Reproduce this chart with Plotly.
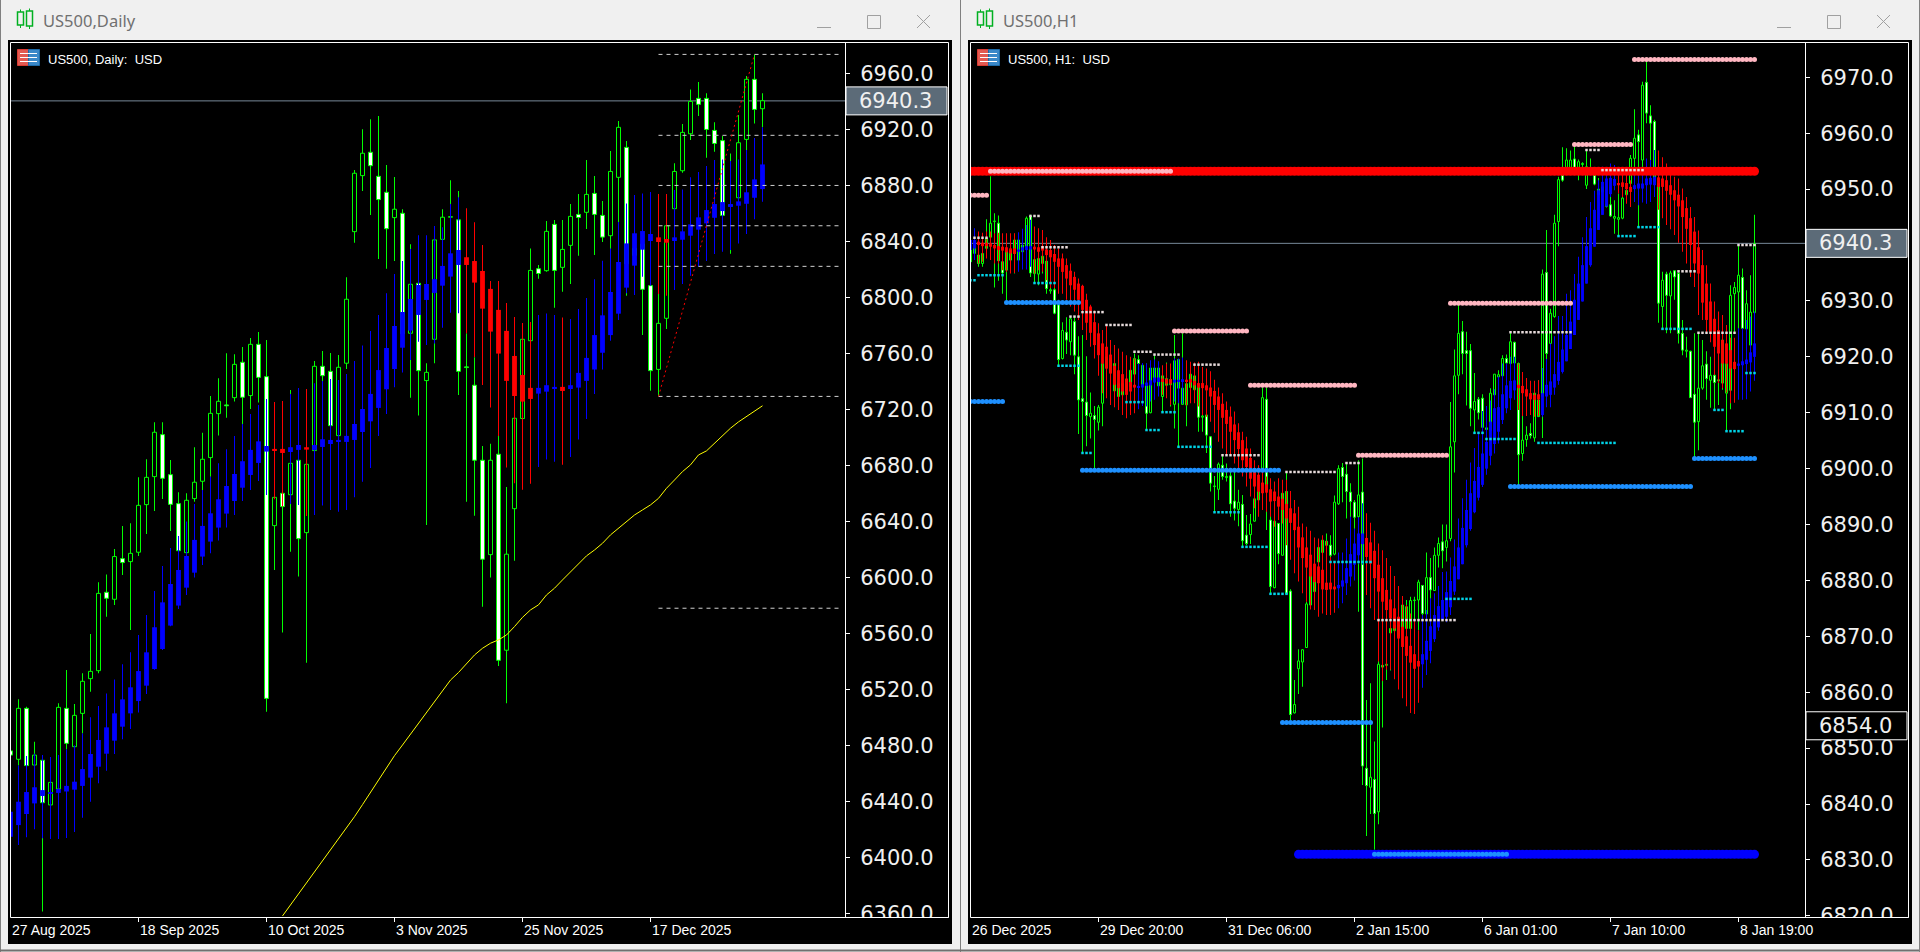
import numpy as np
import plotly.graph_objects as go

# ---- US500 Daily (left window) ----
d_ticks = ["27 Aug 2025", "18 Sep 2025", "10 Oct 2025", "3 Nov 2025", "25 Nov 2025", "17 Dec 2025"]
d_tick_bars = [0, 16, 32, 48, 64, 80]
d_top = [6476,6506.4,6506.4,6473,6469.3,6453.5,6507.1,6506.4,6501.4,6525.7,
         6532.8,6588.5,6589.3,6614.8,6613.3,6617.1,6651.4,6671.4,6703.6,6701.9,
         6673.3,6652.6,6655,6667.9,6684.3,6717.1,6725.7,6723.1,6752.1,6753.6,
         6766.4,6766.4,6743.3,6657.1,6660,6681.4,6683.6,6680.7,6750.7,6750.7,
         6747.1,6750,6798.6,6888.6,6902.9,6903.6,6886.4,6875,6862.9,6860,
         6809.3,6810,6746.4,6841,6857.2,6857.6,6855.3,6750.3,6737.2,6683.6,
         6683.6,6687.9,6616.5,6713.6,6770,6819.2,6820.4,6847.1,6852.1,6834.2,
         6857.8,6859.2,6873.5,6874.2,6858.5,6889.9,6921.4,6907.1,6835,6838,
         6808.3,6781.4,6851.1,6889.9,6917.8,6939.9,6942.1,6942.1,6919.2,6911.9,
         6866,6910.4,6955.7,6955.7,6940.4]
d_bot = [6473,6470,6465.5,6465.9,6439,6437.4,6448.8,6481.4,6479,6502.8,
         6527.6,6533.3,6585,6584.3,6610.5,6611.2,6617.9,6651.9,6671.9,6670.7,
         6652.1,6619,6617.6,6656.2,6668.6,6685.5,6716.9,6722.5,6728.3,6728.6,
         6729.8,6742.8,6513.5,6636.9,6650.5,6659,6627.6,6631.9,6690.5,6744,
         6708.3,6701.2,6752.9,6846.9,6886.9,6894,6869.8,6849,6856.9,6774,
         6774.3,6747.6,6740.5,6770,6841.4,6857.2,6747.1,6749.8,6683.6,6612.9,
         6616.2,6540.7,6547.9,6649,6713.4,6769,6817,6819,6819.2,6821.4,
         6837.1,6857,6860.7,6859.2,6843,6844,6885.7,6824,6830,6805.7,
         6747.6,6748.5,6785,6863.3,6890.4,6916.8,6937.8,6919.9,6909.9,6858.5,
         6865,6871.1,6912.8,6934.2,6934.7]
d_high = [6477,6512.8,6507.6,6482.6,6470,6455,6510,6533.8,6509.5,6531.4,
          6559.5,6596.4,6602,6620.2,6636.7,6638.6,6671.4,6684.3,6710.7,6710.7,
          6683.8,6660.7,6660,6692.9,6703.3,6729.5,6742.1,6760,6759.3,6764.5,
          6771,6775.2,6769.5,6660,6660.5,6733.8,6684,6681,6754.5,6761.7,
          6760.2,6758.8,6814.3,6891,6920,6927.2,6929.5,6894.5,6886,6862.9,
          6837.9,6810.5,6752.9,6841.5,6862.9,6883.6,6876,6774.3,6757.2,6693.8,
          6695.3,6701,6664.5,6714,6770.3,6834.9,6823,6854.5,6855.2,6855.2,
          6866.6,6873.8,6898,6886.6,6868.8,6904.5,6925.9,6911.6,6836,6840,
          6808.8,6802.3,6851.3,6895.7,6923.8,6948.5,6953.8,6945.7,6925,6915.2,
          6902.8,6930.2,6958,6973.5,6945.7]
d_low = [6472,6465.5,6465,6465,6361.2,6436,6447,6477,6478,6488.5,
         6518.3,6531.4,6571.9,6580.2,6601.7,6562.4,6615.2,6631,6647.4,6656,
         6633.1,6619,6617,6654,6662.4,6671.9,6701.2,6714,6725.5,6709.5,
         6720.2,6724.8,6504,6605.2,6560.5,6618.3,6600.5,6539,6690,6740.2,
         6708,6700,6748.8,6839,6876,6858.8,6827.4,6820.3,6826,6764,
         6728.3,6715.5,6637.4,6752.9,6840,6855,6730.2,6654,6644,6579,
         6599.8,6536.7,6510,6611.9,6713,6768.5,6813.3,6818.3,6792.6,6804,
         6809.5,6829.7,6848.8,6830.2,6839.5,6834.2,6853.8,6801.1,6829,6773,
         6733.3,6729.7,6777.3,6862,6889,6912.3,6929.5,6899.7,6904,6858,
         6831.1,6870,6905.2,6924.2,6921.4]
d_white = [1,0,1,0,1,0,0,1,0,0, 0,0,1,0,1,0,0,0,0,1, 1,1,0,0,0,0,0,1,0,1,
           0,1,1,0,1,0,1,0,0,1, 1,0,0,0,0,1,1,1,0,1, 0,1,0,0,0,0,1,1,1,1,
           0,1,0,0,0,0,1,0,1,0, 0,1,0,1,1,0,0,1,0,1, 1,0,0,0,0,0,1,1,1,1,
           0,0,0,1,0]
d_ha_top = [6432.6,6439.7,6446.6,6450,6448,6446.5,6448.8,6451,6454,6463,
            6473.8,6483.8,6492.8,6502.8,6512.8,6521.4,6533,6546.4,6564.3,6582.1,
            6595.2,6605.2,6615.2,6626.7,6636.7,6645.7,6655.7,6665.2,6673.8,6682.9,
            6691,6697.1,6693.8,6691.7,6691.7,6692.9,6694.5,6692.9,6694.5,6698.6,
            6698.1,6698.1,6701,6709.5,6720.2,6731,6748,6763.8,6779.5,6789.5,
            6798.8,6808.8,6809.5,6812.9,6822.4,6831.4,6833.8,6828.6,6825.9,6818.8,
            6806,6791,6776,6758.1,6744.5,6735.3,6735.3,6737.2,6736,6736,
            6737.2,6746,6756.7,6773,6787.1,6803.8,6825.2,6838.5,6845.7,6847.3,
            6845.2,6842.8,6841.6,6842.8,6847.1,6852.1,6857.1,6862.3,6866.6,6868,
            6866.6,6868.5,6875,6884.2,6894.9]
d_ha_bot = [6414.7,6423,6430.9,6438.5,6443.8,6445.8,6446,6447,6448.3,6451,
            6456.9,6464.7,6474,6483.3,6493.3,6502.8,6511.6,6522.6,6534.5,6548.8,
            6565.5,6579.8,6592.6,6603.3,6614.8,6625.5,6635.5,6645.5,6654.5,6664,
            6673.1,6681.7,6689.8,6690.2,6688.8,6689.5,6691,6691.2,6691,6693.1,
            6695.2,6696.7,6696.7,6698.1,6703.8,6711.4,6721,6734.3,6748.8,6764,
            6776.2,6787.4,6798.1,6803.1,6808.3,6814.8,6823.1,6823.1,6810.5,6791.9,
            6775.5,6759.8,6740.3,6729.5,6725.5,6727.4,6731.2,6732.6,6734.5,6733.1,
            6734.5,6735.5,6740.3,6748.4,6760.4,6773,6788.3,6806.9,6822.6,6834,
            6840.2,6839.5,6839,6840.2,6841.1,6844,6848.3,6852.8,6856.8,6861.6,
            6864.5,6865.4,6866.8,6871.1,6877.3]
d_ha_high = [6436,6465.5,6472.4,6474,6473,6471.6,6473,6477,6480,6488.5,
             6500,6508,6517,6527,6537.8,6546.4,6558.8,6573,6590.2,6608.1,
             6621,6629.5,6639.8,6652.4,6662.4,6671.9,6681.4,6691.4,6701,6709.5,
             6716.7,6723.1,6727.4,6725.2,6726,6731,6735.2,6734.5,6738.6,6740.2,
             6741.7,6741,6745.2,6754.5,6765.5,6776,6787.4,6802.9,6816.7,6826,
             6834.5,6844.3,6844.3,6851,6850,6866.7,6871.4,6863.6,6853.6,6837.3,
             6811.6,6811.7,6796,6786,6781.7,6782.4,6787.4,6788.4,6787.4,6785.5,
             6784.5,6791.7,6799.5,6812.8,6826.1,6834.9,6853.8,6867,6873,6874.2,
             6875.2,6873.8,6873.8,6876.6,6877,6885.7,6889.5,6893.8,6898,6898.5,
             6897.3,6898.5,6905.2,6913.8,6921.4]
d_ha_low = [6410,6408.8,6414.3,6420,6413.6,6413,6413,6413.8,6418,6428.3,
            6439.7,6452.8,6461.9,6473.8,6484.3,6491.6,6503.5,6516.6,6534,6548,
            6565,6577.4,6587.4,6599.8,6608.8,6617.1,6626.2,6635.5,6644.5,6654.5,
            6662.4,6668.8,6658.8,6655.7,6650.5,6652.4,6651.7,6643.8,6644.5,6651.2,
            6648.1,6646.9,6648.1,6657.1,6668.3,6678.1,6701,6716.7,6735.7,6746.2,
            6755.2,6768.3,6766,6767,6778.3,6789,6788.6,6774.3,6757.4,6737.4,
            6721.2,6701,6678.4,6667.2,6662.6,6666.9,6678.8,6684.1,6682.6,6680.3,
            6686,6698.4,6713.1,6731,6748.5,6769,6783.8,6802.8,6801.6,6814.7,
            6808.3,6802.3,6801.1,6805.2,6809.5,6815.4,6821.9,6825.9,6830.9,6832.6,
            6833.8,6838.5,6845.2,6855.7,6868.3]
d_ha_red = [33,34,37,57,58,59,60,61,62,63,64,65,69,81,82]
# yellow moving average, bars 34..94
d_ma = [6358.1,6366,6373.8,6381.4,6389.3,6396.9,6405,6412.8,6420.7,6429,6437.6,6446.4,6455.2,6464,6472.6,
        6480.2,6487.8,6495.7,6503.3,6511.2,6519,6526.6,6532,6538.6,6544.5,6549.3,6552.9,6555.3,6558.8,6564.8,
        6571.4,6576.7,6580.3,6587.4,6592.2,6598.1,6604,6610,6615.3,6619.5,6624.3,6630.3,6635,6639.8,6644.5,
        6648.1,6651.7,6656.4,6663.6,6669.5,6675.5,6680.3,6687.4,6690.3,6695.6,6701,6706.5,6711,6715,6719,6722.5]
# fibo levels, dashed, bars 81..104
d_fibo = [6973.5,6915.7,6879.9,6851.1,6822.1,6729.2,6577.9]
d_trend_bars = [81, 93]
d_trend = [6729.2, 6973.5]

# ---- US500 H1 (right window) ----
h_ticks = ["26 Dec 2025", "29 Dec 20:00", "31 Dec 06:00", "2 Jan 15:00", "6 Jan 01:00", "7 Jan 10:00", "8 Jan 19:00"]
h_tick_bars = [0, 32, 64, 96, 128, 160, 192]
h_top = [6940,6939.4,6938.2,6938.5,6941.2,6943.9,6944.3,6943.9,6937,6938.8,
         6939,6940.9,6940.9,6940,6944.8,6945.1,6937.4,6937.6,6938,6937.1,
         6932,6932,6929.3,6924.7,6924.4,6926.8,6926.3,6920,6912.5,6911.9,
         6909.9,6909.5,6911,6918.8,6920,6919.7,6918.8,6915.2,6915.2,6916,
         6917.6,6919.7,6919.5,6918.5,6914.8,6918,6918,6918,6916.6,6916.1,
         6915.9,6919.3,6919.5,6914.4,6915.2,6916.9,6916.6,6914.5,6909.4,6909.6,
         6905.7,6896.9,6900.8,6900.6,6898.6,6898.7,6894.2,6894,6893.6,6888.1,
         6890.1,6894.6,6895.9,6912.7,6912.4,6890.8,6890.6,6890.2,6895.6,6895.9,
         6878.1,6857.8,6865.6,6867.6,6875.8,6882.2,6880,6885.9,6887.2,6887,
         6886.3,6894,6900,6900.2,6899,6895.8,6894,6895.3,6895.8,6846.4,
         6844.8,6844.4,6865,6864.8,6865,6871.4,6872,6872,6875.6,6875.3,
         6876.4,6876.5,6879.7,6879.1,6880.5,6880.5,6884.5,6886.6,6886.9,6887.1,
         6903.9,6916.6,6924.2,6924.5,6921.1,6921.1,6912,6912.4,6912.6,6907.3,
         6913.5,6916.9,6916.8,6919.7,6919.7,6922.7,6922.6,6918.8,6905.1,6906,
         6906.3,6913.5,6912.3,6934.8,6935.1,6927.8,6943.9,6951.7,6952.5,6955.2,
         6955.2,6955.4,6954.9,6954.6,6954,6953.7,6952.5,6950,6950.4,6947.3,
         6947.2,6945.1,6944.9,6948.4,6949.8,6955.5,6959.1,6959.7,6968.6,6969.1,
         6963.1,6962.1,6951,6933.7,6934.8,6935,6935.4,6934.9,6924.2,6921.2,
         6921,6913.3,6914.4,6918.4,6918.7,6916.7,6916.7,6915.9,6923,6918.8,
         6931,6932.4,6934.6,6934.2,6929.5,6928,6940.3]
h_bot = [6937,6938.5,6936.7,6936.7,6939.4,6941.4,6944.2,6937.2,6935,6935.5,
         6937.3,6938.5,6937.3,6938.8,6939.7,6935,6934.9,6934.8,6936.7,6932.2,
         6931.8,6927.8,6919.5,6919.7,6923,6922.7,6920.3,6912.3,6912,6909.5,
         6909.3,6908.8,6908.3,6911.7,6918,6917.2,6913.9,6912.9,6913.2,6914,
         6914.7,6916.9,6918.8,6914.7,6909.9,6910,6916,6914.8,6912.9,6914.9,
         6915,6911.5,6914.4,6911.5,6911.4,6914.5,6914.1,6909.2,6909.2,6906,
         6897.4,6896.8,6896.3,6898.6,6898.4,6893.7,6892.9,6892.7,6887.1,6886.6,
         6888.2,6890.6,6894.4,6900,6896.2,6878.9,6878.7,6884.8,6884.5,6877.7,
         6856,6856.3,6864.2,6865.4,6868,6875.6,6878,6883.3,6885,6886.3,
         6884.5,6884.7,6893.7,6898.6,6895.9,6894.1,6891.3,6891.4,6846.8,6843.3,
         6843,6838.3,6838.6,6864.5,6864.8,6870.6,6871,6870,6871.6,6871.4,
         6871.4,6876.4,6876.5,6874.1,6874,6878.3,6878.2,6884.5,6885.3,6885.9,
         6887.5,6904.8,6916.7,6920.6,6920.6,6910.8,6910.5,6910,6907.4,6907,
         6906.8,6913.2,6916.4,6916.6,6918.9,6918.8,6918.9,6902.5,6902.7,6905.2,
         6905.9,6905.5,6909.3,6912.9,6920.6,6922.4,6927.2,6944.2,6951.6,6953.4,
         6953.1,6953.7,6953.1,6954.4,6950.7,6953.1,6950.9,6949,6949.5,6946.9,
         6945.2,6944.8,6944.6,6944.8,6949,6951,6955.5,6958.5,6955.2,6963.6,
         6961.8,6951.3,6929.6,6929,6931,6930.9,6934.3,6924.2,6921.2,6921,
         6912.7,6908.3,6908.4,6914.4,6916.1,6915.8,6915.4,6915.7,6915.3,6913.5,
         6914,6931.3,6931.6,6925.1,6925,6922.1,6927.9]
h_high = [6940.5,6940,6939.4,6939.4,6944.6,6952.3,6945.7,6945.3,6938,6939.7,
          6939.5,6942,6942,6941.5,6945.1,6945.4,6938,6937.9,6938.5,6937.9,
          6933.6,6933.7,6930.2,6926.2,6927.1,6927.2,6927.2,6923.7,6923.9,6920.1,
          6913.6,6911.2,6911.4,6919.7,6925.7,6921,6919.7,6917,6917,6917,
          6919.7,6920.6,6920.3,6918.8,6918.8,6918,6920.3,6918.2,6917,6919,
          6916,6923.9,6919.6,6924.2,6915.5,6917,6916.7,6914.7,6914.5,6911.6,
          6905.8,6898.7,6901.1,6902.4,6900.9,6899.5,6899.8,6896.2,6895.3,6891.7,
          6891.9,6898.3,6896,6914.5,6914.5,6896.2,6892,6890.2,6895.9,6899.4,
          6878.4,6862.2,6867.7,6867.7,6876.2,6882.3,6881,6886.3,6887.5,6888.4,
          6888.1,6895.2,6900.6,6901,6901,6897.4,6894.4,6901.5,6901.8,6858.6,
          6861.6,6851.2,6869.5,6867.3,6867,6871.6,6872.5,6872.5,6877,6876.5,
          6877.1,6877.1,6880.1,6879.2,6885,6884,6885.9,6887.7,6890,6890,
          6911.9,6921.3,6929.3,6926.4,6924.5,6922.3,6917.1,6912.8,6913.3,6909.9,
          6914.4,6916.9,6917.6,6920.3,6920.4,6924.3,6922.7,6919,6909.7,6907.6,
          6908.1,6913.5,6915.8,6935.6,6942.7,6928.6,6945.4,6952.2,6957.5,6957.3,
          6956.9,6957.6,6955.3,6954.8,6956.9,6955.5,6953.1,6952,6951,6948,
          6949.2,6948,6949.2,6950.4,6951.6,6956.1,6964.3,6960.6,6969.2,6972.9,
          6965,6962.4,6952,6935.2,6935.2,6935.4,6935.4,6935.2,6926.6,6923.6,
          6921.1,6924.2,6924.2,6923,6921,6920,6926.2,6918.8,6926.2,6924.5,
          6932.8,6933.4,6940,6935.8,6931.9,6934.6,6945.4]
h_low = [6936.1,6938,6936.1,6936.1,6937.9,6937.4,6932.4,6933.6,6931.3,6929.9,
         6935,6934.9,6935.6,6937,6939.4,6934.3,6933.1,6932.8,6934.9,6931.3,
         6931.3,6927.6,6918.3,6919.5,6920.5,6920.3,6916.9,6906.2,6902.8,6904,
         6905.4,6900,6906.8,6907.6,6914,6917,6913.7,6912,6912.5,6912,
         6912.3,6916.9,6918.7,6914.7,6906.9,6909.9,6915,6914.8,6910.2,6914,
         6911.1,6907.2,6903.9,6911.5,6907.6,6914.4,6913.8,6906.6,6906.6,6902.8,
         6895.9,6892.3,6894.4,6898,6897.7,6891.4,6890.7,6889.7,6886,6886.3,
         6886.5,6890.5,6894,6899.8,6889,6877.4,6878.6,6882.9,6884.5,6877.7,
         6855,6856.2,6859.7,6861,6868,6875,6877,6883,6884.5,6885.7,
         6883.3,6884.5,6893.5,6894,6891.1,6890.8,6888.4,6874.4,6843.4,6834.3,
         6838.2,6831.8,6836.4,6853.7,6862.2,6863.9,6870.5,6869.8,6871.5,6871.4,
         6871.1,6871.4,6871.1,6873.7,6873.8,6874.1,6878.2,6882.3,6882.2,6883.4,
         6887,6899.3,6913.3,6916.9,6911.3,6907.6,6906.4,6908.8,6907.2,6907,
         6906.8,6905.4,6911.4,6916.4,6918.8,6918.5,6918.8,6897.1,6901.4,6903.9,
         6905.4,6904.8,6909.3,6905.5,6917,6916.7,6927,6939.8,6951.3,6953.1,
         6952.9,6953.1,6951.6,6953.4,6950,6952.8,6950.7,6948,6949.2,6946.7,
         6945,6942,6941.6,6944.6,6948,6946.8,6951.2,6943.3,6950,6961.8,
         6953.4,6951.3,6926.1,6925.1,6924.2,6924.2,6930.2,6922.4,6920.3,6919.9,
         6912.7,6902.1,6903.3,6914.1,6912.3,6910.9,6910.5,6911.4,6914.1,6906.7,
         6910.6,6924.2,6924,6923,6922.4,6919.7,6927.8]
h_white_bars = [0,2,7,8,15,19,21,22,24,26,27,28,29,31,42,44,52,57,59,60,63,65,66,68,69,74,75,77,79,80,
                89,90,93,94,95,96,98,99,101,103,113,115,118,123,124,125,127,128,134,136,137,140,144,148,
                151,156,160,167,169,170,171,172,174,176,177,178,180,181,184,186,193]
h_ha_top = [6940.9,6940.9,6940.6,6940.4,6940.4,6940.3,6940,6939.8,6939.7,6939.6,
            6939.4,6939.4,6939.2,6939.6,6939.8,6939.8,6939.7,6939.6,6939.8,6939.2,
            6939.1,6938.4,6937.6,6937.6,6936.4,6935.4,6934.3,6933.1,6932.7,6930.2,
            6929,6926.2,6924.2,6922.4,6921.8,6920.4,6918.4,6917.6,6916.9,6916.1,
            6915.5,6915,6914.8,6915.1,6915.4,6915.8,6916.3,6916.3,6916.1,6916,
            6916,6915.9,6915.9,6916,6915.9,6916,6915.7,6915.3,6915.3,6914.9,
            6914.5,6913.9,6912.9,6911.6,6910.5,6909.3,6907.9,6906.5,6905.1,6903.6,
            6901.9,6899.8,6898.9,6897.5,6897.2,6896.3,6895.9,6895,6894.6,6893.7,
            6892.9,6892,6889.6,6887.7,6885.9,6884.6,6883,6882.5,6881.9,6879.6,
            6879.6,6878.9,6879.2,6880,6882.2,6884.7,6886.6,6888.4,6888.4,6887.6,
            6886.8,6885.3,6882.8,6880.4,6878.3,6876.6,6875,6873.5,6871.7,6870,
            6868.3,6866.8,6865.6,6866.8,6869.2,6871.8,6873.8,6875.4,6876.5,6877.9,
            6879.9,6882.5,6885.9,6889.4,6892.6,6895.6,6897.8,6900.3,6902.7,6904.8,
            6908.4,6910.8,6911,6913.3,6914.9,6915.7,6915.8,6915,6914.8,6914.2,
            6913.5,6913.2,6913.3,6913.5,6915,6915.6,6916.9,6919.1,6921.3,6923.9,
            6926.3,6930.2,6933.1,6936.4,6939.8,6943,6946.3,6949.8,6951.3,6951.9,
            6952,6951.8,6951.1,6951.2,6951.1,6950.4,6950.7,6951,6951,6951.9,
            6952,6952.2,6952.1,6951.9,6951.6,6950.7,6949.8,6949,6948,6946.6,
            6944.8,6942.4,6939.6,6936.4,6933.1,6929.9,6926.8,6924.8,6923,6922.4,
            6921.2,6919.1,6918.8,6919.2,6919.5,6920.8,6922.4]
h_ha_bot = [6939.1,6939.4,6940,6939.8,6939.8,6939.7,6939.4,6939.1,6939,6938.7,
            6938.5,6938.4,6938.8,6939,6939.1,6939.2,6939.2,6938.8,6939,6938.2,
            6937.8,6937,6936.1,6935.2,6934,6932.8,6932,6930.2,6928.4,6926.1,
            6924.3,6922.1,6920.3,6918.8,6917.9,6917,6915,6914.4,6913.8,6913.2,
            6913.8,6914.5,6914.5,6914.5,6914.8,6914.9,6915.4,6915.5,6915.5,6915.2,
            6915.2,6915.4,6915.5,6915.5,6915.5,6915.4,6914.9,6914.5,6914.4,6914,
            6912.9,6911.4,6910.5,6909.1,6908,6906.6,6905.1,6903.5,6901.5,6900.3,
            6898.2,6896.8,6895.9,6895.6,6895.7,6894.1,6894.2,6893.2,6892.6,6891.1,
            6890.3,6889,6885.9,6884,6882.3,6880.7,6879.7,6879.5,6878.4,6878.3,
            6878.4,6878.4,6878.6,6878.9,6879.5,6880.7,6882.8,6884.5,6886.5,6884.2,
            6883,6880.4,6878,6876.2,6874.7,6873.2,6871.4,6869.6,6868.1,6866.5,
            6865.3,6864.2,6864.6,6865,6865.8,6867.4,6869.5,6871.6,6873,6873.5,
            6875.2,6878,6880.2,6882.9,6886.3,6889.2,6892.2,6894.8,6897.1,6900,
            6902.3,6904.4,6906.6,6908.7,6910.8,6912.6,6914,6914.4,6913.5,6912.9,
            6912.4,6912.3,6912.4,6909.6,6912.9,6913.2,6914.5,6915.7,6917.3,6919.2,
            6921.4,6923.9,6926.6,6929.9,6933.1,6936.4,6939.7,6942.7,6945.4,6946.9,
            6949.1,6950.6,6950.7,6950.4,6950,6949.5,6950,6950.1,6950.1,6950.7,
            6950.8,6950.7,6950.4,6950.4,6949.7,6949,6948,6946.9,6945,6942.9,
            6940,6936.7,6934.9,6929.7,6926.6,6924.5,6921.8,6920.6,6918.8,6918.8,
            6917.9,6917.8,6918.4,6918.5,6918.7,6919,6920]
h_ha_high = [6942,6943,6942.4,6942.2,6942.4,6942.4,6942.1,6942.2,6942.1,6942.1,
             6942.1,6942.1,6942.3,6942.9,6943.6,6944.5,6943.3,6943,6942.7,6941.4,
             6940.9,6940,6939.4,6938.5,6937.6,6936.7,6935.2,6934,6932.9,6931.3,
             6929.3,6928.3,6926,6924.8,6925.5,6923,6922.1,6921.5,6920.9,6920.3,
             6920,6919.7,6918.8,6918.9,6918.8,6919.4,6919.5,6919.2,6918.5,6918.8,
             6918.8,6919.7,6919.7,6919.9,6919.4,6919.1,6919,6919.1,6918.2,6917.9,
             6917.4,6915.9,6914.5,6913.5,6912,6911.1,6910.2,6908.1,6906.6,6905.7,
             6903.6,6901.5,6900.6,6899.5,6898.6,6898.3,6897.7,6898.3,6898,6898,
             6896,6894.4,6893.2,6890.2,6889.6,6888.9,6887.7,6887.5,6888.1,6887.1,
             6884.2,6883.3,6885,6885,6887.5,6891.4,6889.3,6891.3,6893.8,6892,
             6890.3,6888.9,6886.6,6885.4,6884,6882.6,6880.8,6879,6877.2,6875.6,
             6874.1,6872.9,6871.1,6873.8,6874.7,6876.8,6877.7,6879,6881.5,6881.6,
             6884.1,6887.3,6891.1,6894.7,6898,6901.1,6903.7,6906.4,6910.3,6911.2,
             6912.2,6914.2,6916.5,6918.8,6918.8,6920,6920,6918.8,6917.3,6916.2,
             6915.7,6915.7,6915.8,6918,6919.6,6922.4,6923.7,6927.3,6927.3,6931.3,
             6931.9,6934.8,6937.9,6941.4,6945,6947.7,6949.7,6951.6,6954,6953.7,
             6954.6,6954.3,6953.4,6953.4,6953.4,6951.6,6953.4,6953.1,6953.4,6955.5,
             6955.2,6957,6956.9,6955.7,6954.6,6953.7,6952.2,6951.9,6950.1,6948.6,
             6946.8,6945,6942.6,6939.1,6936.4,6933.1,6929.9,6928.1,6927.5,6925.7,
             6923.4,6923.4,6925.1,6925.1,6926.6,6927.2,6928.1]
h_ha_low = [6936.1,6937.3,6936.7,6937,6937.6,6937.3,6936.7,6936.7,6935.5,6935.2,
            6934.9,6935,6935.2,6935.6,6935.6,6936.1,6934.9,6935.5,6935.2,6933.7,
            6932.3,6932.3,6931.3,6931.3,6930.2,6929,6928.1,6926.6,6924.8,6923,
            6921.8,6919.7,6916.6,6913.5,6912.6,6911.4,6911,6910.5,6909.6,6909,
            6909.6,6909.9,6910.6,6911.2,6911.1,6912,6912.3,6912.9,6913.2,6912.6,
            6911.4,6912,6911.7,6911.6,6911.3,6911.7,6911.7,6911.1,6909.6,6909.3,
            6908.4,6906.4,6904.8,6903.6,6902.4,6902.4,6900.9,6899.8,6898.6,6896.8,
            6895,6892.9,6891.4,6892.6,6892.3,6891.4,6889.6,6890.8,6890.2,6886.3,
            6883.7,6881.3,6879.8,6877.7,6876.2,6874.8,6874.7,6873.5,6874.1,6873.8,
            6873.8,6874.2,6875,6875.9,6877.4,6878.9,6880,6883,6882.8,6877.4,
            6875,6872.9,6865.5,6862,6864,6864,6862.3,6860.5,6858.9,6857.5,
            6856.3,6856.1,6858.1,6860.8,6863.1,6865.2,6869,6871,6873,6872.5,
            6873.8,6877.4,6880.2,6882.9,6885.9,6888.9,6892,6894.3,6896.7,6898.9,
            6900.6,6902.7,6904.5,6908,6909.9,6910.5,6912.3,6910.5,6909.4,6909.4,
            6909.6,6909.3,6909.4,6909.3,6911,6911,6913.2,6915,6917,6919.2,
            6921.4,6923.9,6926.6,6929.9,6933.1,6936.1,6939.7,6942.7,6945.4,6946.9,
            6948.6,6949.8,6949.2,6948.6,6947.4,6946.8,6947.7,6947.1,6947.6,6947.4,
            6947.7,6948.6,6946.3,6944.8,6943.6,6942.8,6941.8,6940.4,6938.8,6936.7,
            6934.3,6932.5,6927.5,6926.6,6924.2,6922.6,6916.8,6915.3,6914.4,6913.6,
            6911.7,6911.8,6912.3,6912.3,6912.4,6913.8,6915.7]
h_ha_red_bars = list(range(2, 12)) + list(range(16, 42)) + [48, 49, 50] + list(range(54, 92)) + \
    list(range(99, 113)) + list(range(137, 143)) + [162, 163, 164, 165] + list(range(172, 192))

# support / resistance levels: first bar, last bar, price
thick_red = [(0, 196, 6953.2)]
thick_blue = [(82, 196, 6831.0)]
pink_first = [0, 5, 51, 70, 97, 120, 151, 166]
pink_last = [4, 50, 69, 96, 119, 150, 165, 196]
pink_price = [6948.9, 6953.2, 6924.6, 6914.9, 6902.4, 6929.6, 6958.0, 6973.2]
blue_first = [0, 9, 28, 78, 101, 135, 181]
blue_last = [8, 27, 77, 100, 134, 180, 196]
blue_price = [6912.0, 6929.7, 6899.7, 6854.6, 6831.0, 6896.8, 6901.8]
white_first = [1, 15, 18, 25, 28, 34, 41, 46, 56, 63, 79, 94, 102, 135, 154, 158, 177, 182, 192]
white_last = [4, 17, 24, 27, 33, 40, 45, 52, 62, 72, 91, 97, 121, 150, 157, 168, 181, 191, 196]
white_price = [6941.3, 6945.2, 6939.6, 6927.2, 6928.0, 6925.7, 6920.9, 6920.4, 6918.6, 6902.4, 6899.4, 6901.0,
               6872.9, 6924.4, 6957.0, 6953.4, 6935.3, 6924.3, 6940.0]
cyan_first = [0, 2, 16, 22, 28, 39, 44, 48, 52, 61, 68, 75, 90, 119, 126, 129, 142, 162, 167, 173, 186, 189, 194]
cyan_last = [1, 8, 21, 27, 30, 43, 47, 51, 60, 67, 74, 79, 100, 125, 128, 136, 161, 166, 172, 180, 188, 193, 196]
cyan_price = [6933.7, 6934.6, 6933.2, 6918.4, 6902.8, 6911.9, 6906.9, 6910.1, 6903.9, 6892.2, 6886.0, 6877.6,
              6883.3, 6876.7, 6906.4, 6905.3, 6904.6, 6941.6, 6943.2, 6925.0, 6910.5, 6906.7, 6917.1]

last_price = 6940.3
crosshair_price = 6854.0

GREEN = "#00ff00"
BLUE = "#0000ff"
RED = "#ff0000"
W, H = 1920, 952
D_RANGE = [0.0625, 104.3125]
H_RANGE = [0.125, 208.625]

fig = go.Figure()


def add_bars(x, top, bot, width, color, line, xa, ya):
    top, bot = np.array(top, float), np.array(bot, float)
    fig.add_trace(go.Bar(x=x, y=top - bot, base=bot, width=width, xaxis=xa, yaxis=ya,
                         marker=dict(color=color, line=dict(color=line or color, width=1 if line else 0)),
                         hoverinfo="skip", showlegend=False))


def add_chart(top, bot, high, low, white, ha_top, ha_bot, ha_high, ha_low, ha_red, xa, ya, wick, body, ha_body):
    top, bot, high, low = [np.array(v, float) for v in (top, bot, high, low)]
    ha_top, ha_bot, ha_high, ha_low = [np.array(v, float) for v in (ha_top, ha_bot, ha_high, ha_low)]
    x = np.arange(len(top))
    add_bars(x, high, low, wick, GREEN, None, xa, ya)
    add_bars(x[~white], top[~white], bot[~white], body, "#000000", GREEN, xa, ya)
    add_bars(x[white], top[white], bot[white], body, "#ffffff", GREEN, xa, ya)
    # heiken ashi on top of the candles
    add_bars(x[~ha_red], ha_high[~ha_red], ha_low[~ha_red], wick, BLUE, None, xa, ya)
    add_bars(x[ha_red], ha_high[ha_red], ha_low[ha_red], wick, RED, None, xa, ya)
    add_bars(x[~ha_red], ha_top[~ha_red], ha_bot[~ha_red], ha_body, BLUE, None, xa, ya)
    add_bars(x[ha_red], ha_top[ha_red], ha_bot[ha_red], ha_body, RED, None, xa, ya)


def add_levels(first, last, price, color, size, symbol="circle"):
    xs, ys = [], []
    for f, l, p in zip(first, last, price):
        for k in range(f, l + 1):
            xs.append(k)
            ys.append(p)
    fig.add_trace(go.Scatter(x=xs, y=ys, mode="markers", xaxis="x2", yaxis="y2",
                             marker=dict(color=color, size=size, symbol=symbol, line=dict(width=0)),
                             hoverinfo="skip", showlegend=False))


d_w = np.array(d_white, bool)
h_w = np.zeros(len(h_top), bool)
h_w[h_white_bars] = True
d_r = np.zeros(len(d_top), bool)
d_r[d_ha_red] = True
h_r = np.zeros(len(h_top), bool)
h_r[h_ha_red_bars] = True

add_chart(d_top, d_bot, d_high, d_low, d_w, d_ha_top, d_ha_bot, d_ha_high, d_ha_low, d_r, "x", "y", 0.12, 0.5, 0.6)
add_chart(h_top, h_bot, h_high, h_low, h_w, h_ha_top, h_ha_bot, h_ha_high, h_ha_low, h_r, "x2", "y2", 0.24, 0.5, 0.72)

fig.add_trace(go.Scatter(x=list(range(34, 95)), y=d_ma, mode="lines", line=dict(color="#ffff00", width=1),
                         hoverinfo="skip", showlegend=False))
for p in d_fibo:
    fig.add_trace(go.Scatter(x=[81, 104], y=[p, p], mode="lines", line=dict(color="#d0d0d0", width=1, dash="4px,4px"),
                             hoverinfo="skip", showlegend=False))
fig.add_trace(go.Scatter(x=d_trend_bars, y=d_trend, mode="lines", line=dict(color=RED, width=1, dash="2px,3px"),
                         hoverinfo="skip", showlegend=False))

add_levels(*zip(*thick_red), RED, 9)
add_levels(*zip(*thick_blue), BLUE, 9)
add_levels(pink_first, pink_last, pink_price, "#ffb6c1", 5)
add_levels(blue_first, blue_last, blue_price, "#1e90ff", 5)
add_levels(white_first, white_last, white_price, "#e8dcdc", 2.5, "square")
add_levels(cyan_first, cyan_last, cyan_price, "#00d4e8", 2.5, "square")


def px(x):
    return x / W


def py(y):
    return 1 - y / H


shapes = []
notes = []


def rect(x0, y0, x1, y1, fill=None, line=None, width=1, layer="below"):
    shapes.append(dict(type="rect", xref="paper", yref="paper", x0=px(x0), x1=px(x1), y0=py(y0), y1=py(y1),
                       fillcolor=fill or "rgba(0,0,0,0)", layer=layer,
                       line=dict(color=line or "rgba(0,0,0,0)", width=width if line else 0)))


def seg(x0, y0, x1, y1, color, width=1, layer="below"):
    shapes.append(dict(type="line", xref="paper", yref="paper", x0=px(x0), x1=px(x1), y0=py(y0), y1=py(y1),
                       layer=layer, line=dict(color=color, width=width)))


def window(ox, title, header, ax_x, bars, labels, x_start):
    # window chrome, chart frame and header for one terminal window
    rect(ox, 0, ox + 960, 952, "#f0f0f0")
    seg(ox + 0.5, 0, ox + 0.5, 952, "#808080", 1)
    rect(ox + 8, 40, ox + 952, 944, "#000000")
    rect(ox + 10.5, 42.5, ox + 948.5, 917.5, None, "#ffffff", 1)
    seg(ox + 845.5, 42, ox + 845.5, 917, "#ffffff", 1)
    # title icon
    for a, b, wt, wb, c in [(17.5, 23.5, 12, 25, 20.5), (26.5, 32.5, 11, 26, 29.5)]:
        seg(ox + c, wt - 2.5, ox + c, wb + 3, "#00b020", 1)
        rect(ox + a, wt, ox + b, wb, "#f0f0f0", "#00b020", 1.5)
    notes.append(dict(text=title, xref="paper", yref="paper", x=px(ox + 41), y=py(20), xanchor="left", yanchor="middle",
                      showarrow=False, font=dict(family="Noto Sans", size=16.5, color="#707070")))
    # window buttons
    seg(ox + 817, 27.5, ox + 831, 27.5, "#a0a0a0", 1)
    rect(ox + 867.5, 15.5, ox + 880.5, 28.5, None, "#a0a0a0", 1)
    seg(ox + 917, 15, ox + 930, 28, "#a0a0a0", 1)
    seg(ox + 930, 15, ox + 917, 28, "#a0a0a0", 1)
    # symbol flag
    rect(ox + 17.5, 49.5, ox + 28.5, 65.5, "#e25a52", "#d83a32", 1)
    rect(ox + 28.5, 49.5, ox + 39.5, 65.5, "#3a88c8", "#1c6aa8", 1)
    for y in (53.5, 57.5, 61.5):
        seg(ox + 20, y, ox + 37, y, "#ffffff", 1)
    notes.append(dict(text=header, xref="paper", yref="paper", x=px(ox + 46), y=py(59), xanchor="left", yanchor="middle",
                      showarrow=False, font=dict(family="Liberation Sans", size=13, color="#ffffff")))
    # date labels, the first one sits on the very edge of the range
    for b, t in zip(bars, labels):
        notes.append(dict(text=t, xref=ax_x, yref="paper", x=max(b, x_start), y=py(930), xanchor="left", yanchor="middle",
                          xshift=-1, showarrow=False, font=dict(family="Liberation Sans", size=14, color="#ffffff")))
    # cover the half clipped bottom price label
    rect(ox + 846, 918, ox + 948, 943, "#000000", layer="above")
    seg(ox + 846, 917.5, ox + 948.5, 917.5, "#ffffff", 1, layer="above")


def price_box(price, ax_y, ox, fill):
    shapes.append(dict(type="rect", xref="paper", yref=ax_y, ysizemode="pixel", yanchor=price, y0=-14, y1=14,
                       x0=px(ox + 846), x1=px(ox + 947), fillcolor=fill, layer="above",
                       line=dict(color="#ffffff", width=1)))
    notes.append(dict(text=f"{price:.1f}", xref="paper", yref=ax_y, x=px(ox + 857), y=price, xanchor="left",
                      yanchor="middle", showarrow=False, font=dict(family="DejaVu Sans", size=21, color="#f0f0f0")))


window(0, "US500,Daily", "US500, Daily:  USD", "x", d_tick_bars, d_ticks, D_RANGE[0])
window(960, "US500,H1", "US500, H1:  USD", "x2", h_tick_bars, h_ticks, H_RANGE[0])
seg(0, 950.5, 1920, 950.5, "#707070", 2)
seg(1919.5, 0, 1919.5, 952, "#808080", 1)

# current price lines
for ya, xa in (("y", "x"), ("y2", "x2")):
    shapes.append(dict(type="line", xref=f"{xa} domain", yref=ya, x0=0, x1=1, y0=last_price, y1=last_price,
                       layer="below", line=dict(color="#778899", width=1)))
price_box(last_price, "y", 0, "#5c6b78")
price_box(last_price, "y2", 960, "#5c6b78")
price_box(crosshair_price, "y2", 960, "#000000")

axis_font = dict(family="DejaVu Sans", size=21, color="#f0f0f0")
y_common = dict(side="right", showgrid=False, zeroline=False, showline=False, ticks="outside", ticklen=4,
                tickwidth=1, tickcolor="#ffffff", tickfont=axis_font, fixedrange=True, ticklabelstandoff=6,
                automargin=False, domain=[1 - 917 / H, 1 - 43 / H])
x_common = dict(showgrid=False, zeroline=False, showline=False, ticks="outside", ticklen=4, tickwidth=1,
                tickcolor="#ffffff", showticklabels=False, fixedrange=True, automargin=False)

fig.update_layout(
    width=W,
    height=H,
    margin=dict(l=0, r=0, t=0, b=0),
    paper_bgcolor="#f0f0f0",
    plot_bgcolor="rgba(0,0,0,0)",
    barmode="overlay",
    showlegend=False,
    shapes=shapes,
    annotations=notes,
    xaxis=dict(domain=[11 / W, 845 / W], range=D_RANGE, tickvals=d_tick_bars, anchor="y", **x_common),
    yaxis=dict(range=[6357.35, 6981.64], tickvals=list(range(6360, 6961, 40)), ticktext=[f"{v}.0" for v in range(6360, 6961, 40)],
               anchor="x", **y_common),
    xaxis2=dict(domain=[971 / W, 1805 / W], range=H_RANGE, tickvals=h_tick_bars, anchor="y2", **x_common),
    yaxis2=dict(range=[6819.79, 6976.14], tickvals=list(range(6820, 6971, 10)), ticktext=[f"{v}.0" for v in range(6820, 6971, 10)],
                anchor="x2", **y_common),
)

fig.write_html("out.html", config={"displayModeBar": False}, post_script="document.body.style.margin='0';document.body.style.overflow='hidden';")
